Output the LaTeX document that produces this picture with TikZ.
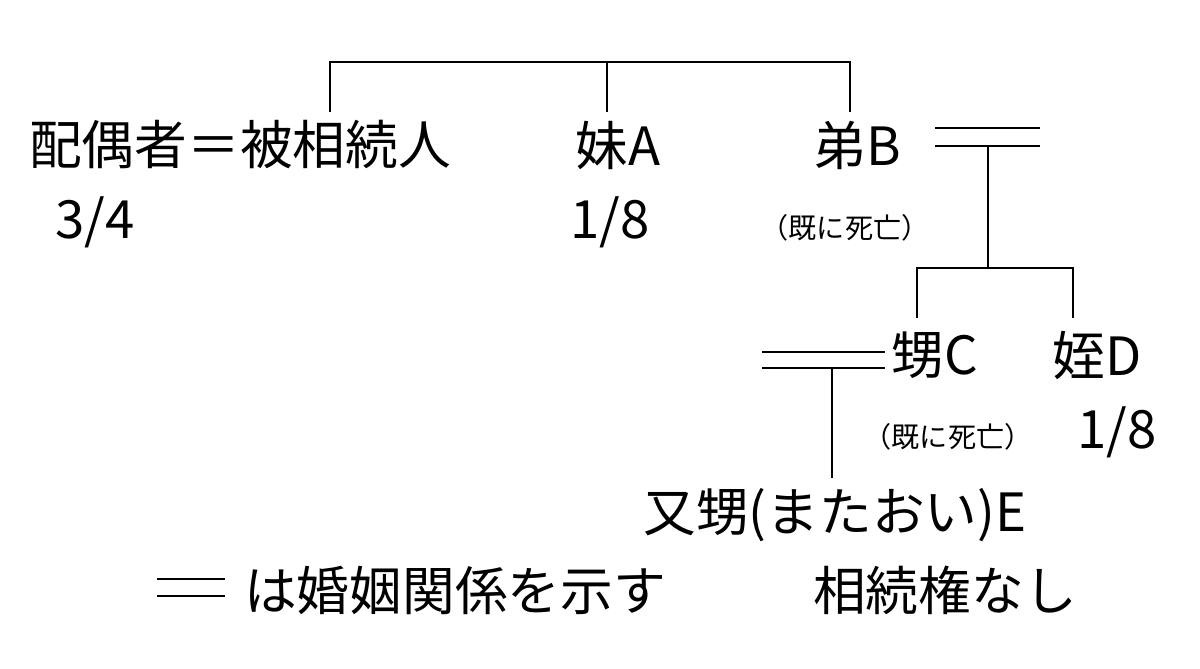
\documentclass[tikz,border=0pt]{standalone}
\usepackage{fontspec}
\setmainfont{Noto Sans CJK JP}
\begin{document}
\begin{tikzpicture}[x=0.02cm,y=-0.02cm,
 big/.style={inner sep=0,font=\fontsize{30}{32}\selectfont},
 small/.style={inner sep=0,font=\fontsize{16}{18}\selectfont},
 ln/.style={line width=0.9pt}]
\useasboundingbox (0,0) rectangle (1200,669);
\node[big] (h) at (240,145) {配偶者＝被相続人};
\node[big] (s1) at (95,222) {3/4};
\node[big] (a) at (618,145) {妹A};
\node[big] (s2) at (610,222) {1/8};
\node[big] (b) at (857,145) {弟B};
\node[small] (bd) at (845,228) {（既に死亡）};
\node[big] (c) at (935,355) {甥C};
\node[big] (d) at (1097,355) {姪D};
\node[small] (cd) at (948,437) {（既に死亡）};
\node[big] (s3) at (1117,432) {1/8};
\node[big] (e) at (835,515) {又甥(またおい)E};
\node[big] (lg) at (455,590) {は婚姻関係を示す};
\node[big] (nr) at (945,590) {相続権なし};
\coordinate (t1) at (330,112); \coordinate (t2) at (607,112); \coordinate (t3) at (850,112);
\draw[ln] (t1) -- (330,62) -- (850,62) -- (t3);
\draw[ln] (607,62) -- (t2);
\coordinate (m1a) at (935,128); \coordinate (m1b) at (1040,128);
\coordinate (m2a) at (935,146); \coordinate (m2b) at (1040,146);
\draw[ln] (m1a) -- (m1b); \draw[ln] (m2a) -- (m2b);
\draw[ln] (988,146) -- (988,268);
\draw[ln] (917,318) -- (917,268) -- (1073,268) -- (1073,318);
\draw[ln] (762,352) -- (885,352); \draw[ln] (762,368) -- (885,368);
\draw[ln] (832,368) -- (832,478);
\draw[ln] (157,579) -- (225,579); \draw[ln] (157,596) -- (225,596);
\end{tikzpicture}
\end{document}
